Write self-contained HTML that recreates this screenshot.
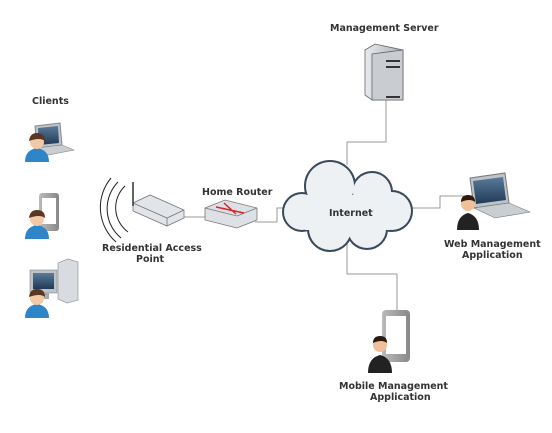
<!DOCTYPE html>
<html><head><meta charset="utf-8"><style>
body{margin:0;background:#fff;width:552px;height:433px;overflow:hidden}
svg{display:block}
text{font-family:"DejaVu Sans","Liberation Sans",sans-serif;font-weight:bold;font-size:9.5px;fill:#333}
</style></head><body>
<svg width="552" height="433" viewBox="0 0 552 433">
<defs>
<linearGradient id="srv" x1="0" x2="1"><stop offset="0" stop-color="#e8eaee"/><stop offset="1" stop-color="#a9b0b8"/></linearGradient>
<linearGradient id="scr" x1="0" y1="0" x2="0" y2="1"><stop offset="0" stop-color="#5a7a98"/><stop offset="1" stop-color="#1f3a56"/></linearGradient>
<linearGradient id="ph" x1="0" x2="1"><stop offset="0" stop-color="#bbb"/><stop offset="1" stop-color="#888"/></linearGradient>
</defs>
<!-- connectors -->
<g fill="none" stroke="#999" stroke-width="1">
<polyline points="386,100 386,142 347,142 347,165"/>
<polyline points="410,208 440,208 440,196 472,196"/>
<polyline points="347,244 347,274 397,274 397,310"/>
<polyline points="286,208 277,208 277,222 255,222"/>
<polyline points="183,217 207,217"/>
</g>
<!-- cloud -->
<g stroke="#3b4a5a" stroke-width="4" fill="#3b4a5a">
<circle cx="330" cy="186" r="24"/><circle cx="372" cy="192" r="19"/><circle cx="392" cy="211" r="19"/>
<circle cx="367" cy="229" r="19"/><circle cx="330" cy="229" r="21"/><circle cx="302" cy="212" r="18"/>
</g>
<g fill="#eef1f4">
<circle cx="330" cy="186" r="24"/><circle cx="372" cy="192" r="19"/><circle cx="392" cy="211" r="19"/>
<circle cx="367" cy="229" r="19"/><circle cx="330" cy="229" r="21"/><circle cx="302" cy="212" r="18"/>
<rect x="305" y="195" width="85" height="35"/>
</g>
<text x="329" y="216" font-size="8.5">Internet</text>
<!-- server -->
<path d="M365 50 L375 44 L403 50 L403 100 L372 100 L365 95Z" fill="url(#srv)" stroke="#666" stroke-width="0.8"/>
<path d="M372 54 L403 50 L403 100 L372 100Z" fill="#c9cdd2" stroke="#666" stroke-width="0.8"/>
<rect x="386" y="60" width="14" height="2" fill="#333"/><rect x="386" y="66" width="14" height="2" fill="#333"/><rect x="386" y="96" width="14" height="2" fill="#333"/>
<!-- router -->
<path d="M205 208 L225 200 L257 208 L257 220 L237 228 L205 220Z" fill="#dde1e6" stroke="#777" stroke-width="0.8"/>
<path d="M205 208 L237 216 L257 208" fill="none" stroke="#777" stroke-width="0.8"/>
<path d="M216 207 L244 213 M224 203 L236 214" stroke="#d22" stroke-width="1.5"/>
<!-- AP -->
<path d="M133 203 L150 195 L184 210 L184 218 L167 226 L133 211Z" fill="#e1e4e8" stroke="#777" stroke-width="0.8"/>
<path d="M133 203 L167 218 L184 210 M167 218 L167 226" fill="none" stroke="#777" stroke-width="0.8"/>
<line x1="133" y1="182" x2="133" y2="206" stroke="#333" stroke-width="1.5"/>
<g fill="none" stroke="#222" stroke-width="1">
<path d="M125 186 A30 30 0 0 0 128 232"/><path d="M118 182 A38 38 0 0 0 121 238"/><path d="M111 178 A46 46 0 0 0 116 242"/>
</g>
<!-- client laptop -->
<path d="M35 126 L60 123 L62 145 L37 148Z" fill="#bcc3ca" stroke="#888"/>
<path d="M38 128 L58 126 L59 143 L39 145Z" fill="url(#scr)"/>
<path d="M37 148 L62 145 L74 150 L48 155Z" fill="#c9ced3" stroke="#888" stroke-width="0.6"/>
<!-- client phone -->
<rect x="39" y="193" width="20" height="38" rx="3" fill="url(#ph)"/><rect x="42" y="198" width="14" height="26" fill="#fff"/>
<!-- client PC -->
<path d="M58 263 L68 259 L78 262 L78 300 L67 303 L58 299Z" fill="#d8dce0" stroke="#888" stroke-width="0.6"/>
<rect x="30" y="270" width="27" height="23" fill="#bcc3ca" stroke="#888" stroke-width="0.6"/><rect x="33" y="273" width="21" height="16" fill="url(#scr)"/>
<rect x="43" y="293" width="6" height="6" fill="#aaa"/>
<!-- client people -->
<g>
<path d="M25 162 Q25 150 37 148 Q49 150 49 162Z" fill="#2e86c8"/><circle cx="37" cy="142" r="7" fill="#f2c9a6"/><path d="M29 141 Q30 133 37 133 Q45 133 45 141 Q40 137 29 141Z" fill="#5b3620"/>
<path d="M25 239 Q25 227 37 225 Q49 227 49 239Z" fill="#2e86c8"/><circle cx="37" cy="219" r="7" fill="#f2c9a6"/><path d="M29 218 Q30 210 37 210 Q45 210 45 218 Q40 214 29 218Z" fill="#5b3620"/>
<path d="M25 318 Q25 306 37 304 Q49 306 49 318Z" fill="#2e86c8"/><circle cx="37" cy="298" r="7" fill="#f2c9a6"/><path d="M29 297 Q30 289 37 289 Q45 289 45 297 Q40 293 29 297Z" fill="#5b3620"/>
</g>
<!-- web laptop -->
<path d="M470 178 L505 173 L509 203 L474 208Z" fill="#bcc3ca" stroke="#777"/>
<path d="M473 181 L503 177 L506 200 L476 204Z" fill="url(#scr)"/>
<path d="M474 208 L509 203 L530 212 L495 218Z" fill="#c9ced3" stroke="#777" stroke-width="0.6"/>
<path d="M457 230 Q457 216 468 213 Q479 216 479 230Z" fill="#222"/><circle cx="468" cy="204" r="7" fill="#f0c09a"/><path d="M461 202 Q461 195 468 195 Q475 195 475 202 Q470 198 461 202Z" fill="#2a1a10"/>
<!-- mobile phone -->
<rect x="382" y="310" width="28" height="52" rx="4" fill="url(#ph)"/><rect x="386" y="316" width="20" height="38" fill="#fff"/>
<path d="M368 373 Q368 358 380 355 Q392 358 392 373Z" fill="#222"/><circle cx="380" cy="345" r="7" fill="#f0c09a"/><path d="M373 343 Q373 336 380 336 Q387 336 387 343 Q382 339 373 343Z" fill="#2a1a10"/>
<!-- labels -->
<text x="330" y="31">Management Server</text>
<text x="32" y="104">Clients</text>
<text x="202" y="195">Home Router</text>
<text x="102" y="251">Residential Access</text>
<text x="136" y="262">Point</text>
<text x="444" y="247">Web Management</text>
<text x="462" y="258">Application</text>
<text x="339" y="389">Mobile Management</text>
<text x="370" y="400">Application</text>
</svg>
</body></html>
